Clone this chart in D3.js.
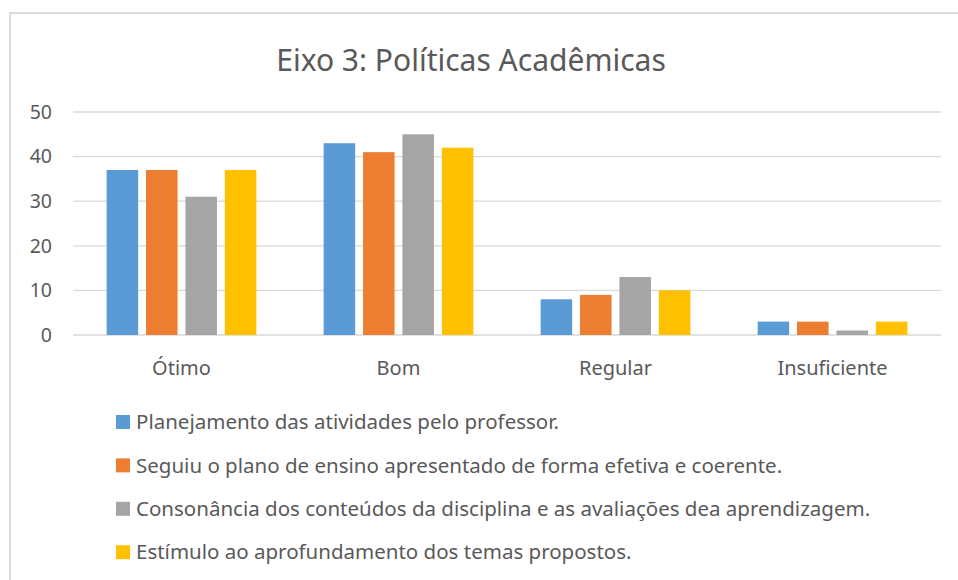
<!DOCTYPE html>
<html>
<head>
<meta charset="utf-8">
<script src="https://cdn.jsdelivr.net/npm/d3@7"></script>
<style>
  body { margin: 0; background: #fff; }
  text { font-family: "Noto Sans", "Open Sans", sans-serif; fill: #595959; }
</style>
</head>
<body>
<svg id="chart" width="958" height="580"></svg>
<script>
var categories = ['Ótimo', 'Bom', 'Regular', 'Insuficiente'];
var seriesNames = [
  'Planejamento das atividades pelo professor.',
  'Seguiu o plano de ensino apresentado de forma efetiva e coerente.',
  'Consonância dos conteúdos da disciplina e as avaliações dea aprendizagem.',
  'Estímulo ao aprofundamento dos temas propostos.'
];
var planejamento = [37, 43, 8, 3];
var seguiu = [37, 41, 9, 3];
var consonancia = [31, 45, 13, 1];
var estimulo = [37, 42, 10, 3];
var yTicks = [0, 10, 20, 30, 40, 50];
var colors = ['#5B9BD5', '#ED7D31', '#A5A5A5', '#FFC000'];

var allSeries = [planejamento, seguiu, consonancia, estimulo];

var svg = d3.select('#chart');

// chart frame (cropped on right and bottom)
svg.append('path')
  .attr('d', 'M10,600 L10,13 L970,13')
  .attr('fill', 'none')
  .attr('stroke', '#D9D9D9')
  .attr('stroke-width', 2);

svg.append('text')
  .attr('x', 471)
  .attr('y', 71)
  .attr('text-anchor', 'middle')
  .attr('font-size', 30)
  .text('Eixo 3: Políticas Acadêmicas');

var x0 = d3.scaleBand().domain(categories).range([73, 941]).paddingInner(0.31).paddingOuter(0.155);
var x1 = d3.scaleBand().domain(d3.range(4)).range([0, x0.bandwidth()]).paddingInner(0.2);
var y = d3.scaleLinear().domain([0, 50]).range([335, 112]);

// gridlines
svg.append('g').selectAll('line')
  .data(yTicks)
  .join('line')
  .attr('x1', 73).attr('x2', 941)
  .attr('y1', d => y(d)).attr('y2', d => y(d))
  .attr('stroke', '#D9D9D9')
  .attr('stroke-width', 1.3);

var yAxis = svg.append('g')
  .attr('transform', 'translate(52,0)')
  .call(d3.axisLeft(y).tickValues(yTicks).tickSize(0).tickPadding(0));
yAxis.select('.domain').remove();
yAxis.selectAll('text').attr('font-size', 19.5).attr('fill', '#595959').attr('font-family', '"Noto Sans", sans-serif');

var xAxis = svg.append('g')
  .attr('transform', 'translate(0,335)')
  .call(d3.axisBottom(x0).tickSize(0).tickPadding(26));
xAxis.select('.domain').remove();
xAxis.selectAll('text').attr('font-size', 20).attr('fill', '#595959').attr('font-family', '"Noto Sans", sans-serif');

// bars
var groups = svg.append('g').selectAll('g')
  .data(categories)
  .join('g')
  .attr('transform', d => 'translate(' + x0(d) + ',0)');

groups.selectAll('rect')
  .data((c, ci) => allSeries.map((s, si) => ({ si: si, v: s[ci] })))
  .join('rect')
  .attr('x', d => x1(d.si))
  .attr('width', x1.bandwidth())
  .attr('y', d => y(d.v))
  .attr('height', d => y(0) - y(d.v))
  .attr('fill', d => colors[d.si]);

// legend
var legend = svg.append('g').selectAll('g')
  .data(seriesNames)
  .join('g')
  .attr('transform', (d, i) => 'translate(116,' + (422 + i * 43.4) + ')');

legend.append('rect')
  .attr('x', 0).attr('y', -7)
  .attr('width', 14).attr('height', 14)
  .attr('fill', (d, i) => colors[i]);

legend.append('text')
  .attr('x', 20)
  .attr('y', 0)
  .attr('dy', '0.35em')
  .attr('font-size', 20.5)
  .text(d => d);
</script>
</body>
</html>
